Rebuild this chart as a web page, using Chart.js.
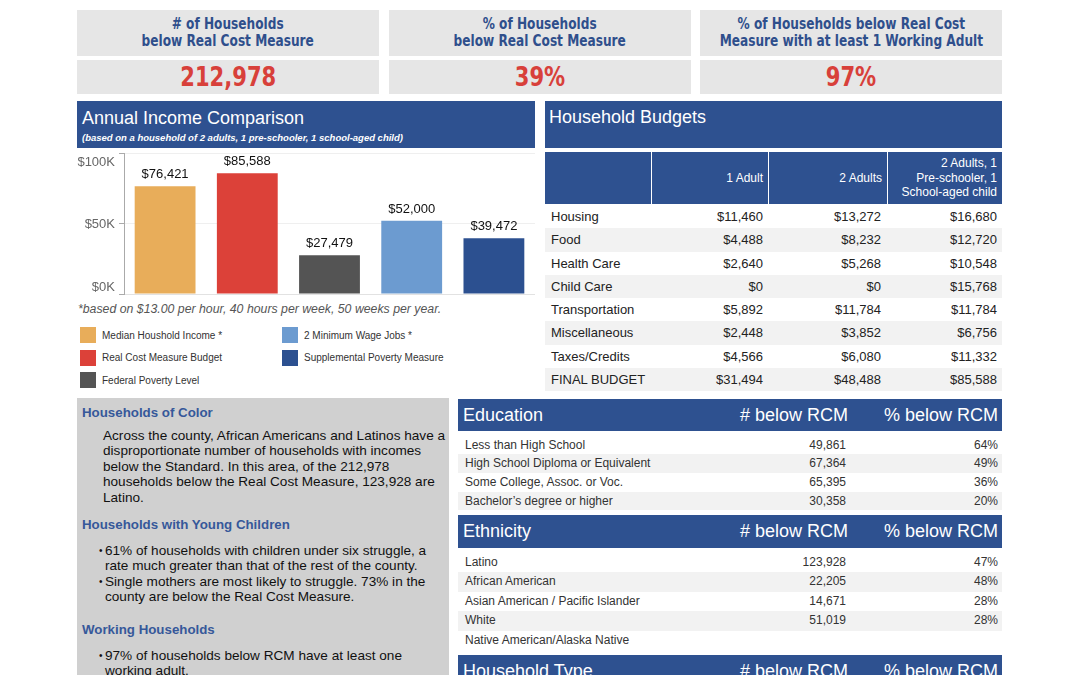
<!DOCTYPE html>
<html><head><meta charset="utf-8">
<script src="https://cdn.jsdelivr.net/npm/chart.js@4.4.1/dist/chart.umd.min.js"></script>
<style>
body{margin:0;width:1079px;height:675px;overflow:hidden;background:#fff;font-family:"Liberation Sans",Arial,sans-serif;position:relative;color:#222}
.a{position:absolute;box-sizing:border-box}
.kl{background:#e6e6e6;color:#2f4f8c;font-family:"Liberation Sans Narrow","Arial Narrow","DejaVu Sans Condensed",sans-serif;font-weight:bold;font-size:15px;line-height:17px;text-align:center;display:flex;align-items:center;justify-content:center}
.kl div{transform:scaleX(0.9);white-space:nowrap}
.kv{background:#e6e6e6;color:#d8403a;font-family:"Liberation Sans Narrow","Arial Narrow","DejaVu Sans Condensed",sans-serif;font-weight:bold;font-size:26px;text-align:center;display:flex;align-items:center;justify-content:center}
.kv div{transform:scaleX(0.9)}
.blue{background:#2e5190;color:#fff}
.leg{font-size:10px;color:#333;display:flex;align-items:center;height:16px}
.leg span{display:inline-block;width:16px;height:16px;margin-right:6px}
.gp{background:#d0d0d0}
.gh{color:#36589a;font-weight:bold;font-size:13.3px}
.gt{font-size:13.6px;line-height:15.4px;color:#111}
</style></head><body>
<div id="root"></div>
<div class="a" style="left:77px;top:140px;width:460px;height:157px"><canvas id="c"></canvas></div>
<script>
// ---- data ----
const kpiLabels = ["# of Households<br>below Real Cost Measure", "% of Households<br>below Real Cost Measure", "% of Households below Real Cost<br>Measure with at least 1 Working Adult"];
const kpiValues = ["212,978", "39%", "97%"];

const incomeCategories = ["Median Houshold Income *", "Real Cost Measure Budget", "Federal Poverty Level", "2 Minimum Wage Jobs *", "Supplemental Poverty Measure"];
const incomeValues = [76421, 85588, 27479, 52000, 39472];
const incomeColors = ["#e8ad5a", "#dc4139", "#545454", "#6c9bd0", "#2c5090"];
const yTicks = [0, 50000, 100000];

const budgetColumns = ["1 Adult", "2 Adults", "2 Adults, 1<br>Pre-schooler, 1<br>School-aged child"];
const budgetRows = ["Housing", "Food", "Health Care", "Child Care", "Transportation", "Miscellaneous", "Taxes/Credits", "FINAL BUDGET"];
const budget1Adult = ["$11,460", "$4,488", "$2,640", "$0", "$5,892", "$2,448", "$4,566", "$31,494"];
const budget2Adults = ["$13,272", "$8,232", "$5,268", "$0", "$11,784", "$3,852", "$6,080", "$48,488"];
const budgetFamily = ["$16,680", "$12,720", "$10,548", "$15,768", "$11,784", "$6,756", "$11,332", "$85,588"];

const eduRows = ["Less than High School", "High School Diploma or Equivalent", "Some College, Assoc. or Voc.", "Bachelor\u2019s degree or higher"];
const eduCount = ["49,861", "67,364", "65,395", "30,358"];
const eduPct = ["64%", "49%", "36%", "20%"];
const ethRows = ["Latino", "African American", "Asian American / Pacific Islander", "White", "Native American/Alaska Native"];
const ethCount = ["123,928", "22,205", "14,671", "51,019", ""];
const ethPct = ["47%", "48%", "28%", "28%", ""];

// ---- layout ----
const root = document.getElementById('root');
let h = '';
const kx = [77, 389, 700];
for (let i = 0; i < 3; i++) {
  h += `<div class="a kl" style="left:${kx[i]}px;top:10px;width:302px;height:46px"><div>${kpiLabels[i]}</div></div>`;
  h += `<div class="a kv" style="left:${kx[i]}px;top:60px;width:302px;height:34px"><div>${kpiValues[i]}</div></div>`;
}
// Annual income header
h += `<div class="a blue" style="left:77px;top:101px;width:458px;height:47px;padding:6px 0 0 5px">
<div style="font-size:18px;line-height:22px">Annual Income Comparison</div>
<div style="font-size:9.5px;font-style:italic;font-weight:bold;margin-top:3px">(based on a household of 2 adults, 1 pre-schooler, 1 school-aged child)</div></div>`;
h += `<div class="a" style="left:78px;top:302px;font-size:12.3px;font-style:italic;color:#555">*based on $13.00 per hour, 40 hours per week, 50 weeks per year.</div>`;
// legend
incomeCategories.forEach((c, i) => {
  const col = i < 3 ? 0 : 1, row = i < 3 ? i : i - 3;
  const x = col ? 282 : 80, y = 327 + row * 22.7;
  h += `<div class="a leg" style="left:${x}px;top:${y}px"><span style="background:${incomeColors[i]}"></span>${c}</div>`;
});
// Household budgets
h += `<div class="a blue" style="left:545px;top:101px;width:457px;height:47px;padding:6px 0 0 4px;font-size:18px">Household Budgets</div>`;
const bcx = [545, 652, 769, 888, 1002];
for (let i = 0; i < 4; i++) {
  const txt = i === 0 ? '' : budgetColumns[i - 1];
  h += `<div class="a blue" style="left:${bcx[i]}px;top:152px;width:${bcx[i+1]-bcx[i]-(i<3?1:0)}px;height:52px;font-size:12px;line-height:14.5px;text-align:right;padding-right:5px;display:flex;align-items:center;justify-content:flex-end"><div>${txt}</div></div>`;
}
const rightEdges = [763, 881, 997];
budgetRows.forEach((r, i) => {
  const y = 205 + i * 23.25;
  const bg = i % 2 ? '#f2f2f2' : '#fff';
  h += `<div class="a" style="left:545px;top:${y}px;width:457px;height:23.25px;background:${bg}"></div>`;
  h += `<div class="a" style="left:551px;top:${y}px;height:23px;line-height:23px;font-size:13px">${r}</div>`;
  [budget1Adult[i], budget2Adults[i], budgetFamily[i]].forEach((v, j) => {
    h += `<div class="a" style="right:${1079-rightEdges[j]}px;top:${y}px;height:23px;line-height:23px;font-size:13px">${v}</div>`;
  });
});
// gray panel
h += `<div class="a gp" style="left:77px;top:398px;width:372px;height:277px"></div>`;
h += `<div class="a gh" style="left:82px;top:405px">Households of Color</div>`;
h += `<div class="a gt" style="left:103px;top:428px;width:347px">Across the county, African Americans and Latinos have a disproportionate number of households with incomes below the Standard. In this area, of the 212,978 households below the Real Cost Measure, 123,928 are Latino.</div>`;
h += `<div class="a gh" style="left:82px;top:517px">Households with Young Children</div>`;
const bullet = (y, txt) => `<div class="a gt" style="left:105px;top:${y}px;width:344px"><span class="a" style="left:-6px;top:0;font-size:10px">\u2022</span>${txt}</div>`;
h += bullet(543, '61% of households with children under six struggle, a rate much greater than that of the rest of the county.');
h += bullet(574, 'Single mothers are most likely to struggle. 73% in the county are below the Real Cost Measure.');
h += `<div class="a gh" style="left:82px;top:622px">Working Households</div>`;
h += bullet(648, '97% of households below RCM have at least one working adult.');

// right tables
function section(title, top, hh, rows, counts, pcts, rowTop, rowH) {
  let s = `<div class="a blue" style="left:458px;top:${top}px;width:544px;height:${hh}px"></div>`;
  s += `<div class="a" style="left:463px;top:${top}px;height:${hh}px;line-height:${hh}px;font-size:18px;color:#fff">${title}</div>`;
  s += `<div class="a" style="right:${1079-848}px;top:${top}px;height:${hh}px;line-height:${hh}px;font-size:18px;color:#fff">#&nbsp;below RCM</div>`;
  s += `<div class="a" style="right:${1079-998}px;top:${top}px;height:${hh}px;line-height:${hh}px;font-size:18px;color:#fff">%&nbsp;below RCM</div>`;
  rows.forEach((r, i) => {
    const y = rowTop + i * rowH;
    if (i % 2) s += `<div class="a" style="left:458px;top:${y}px;width:544px;height:${rowH}px;background:#f2f2f2"></div>`;
    s += `<div class="a" style="left:465px;top:${y}px;height:${rowH}px;line-height:${rowH}px;font-size:12px;color:#333">${r}</div>`;
    s += `<div class="a" style="right:${1079-846}px;top:${y}px;height:${rowH}px;line-height:${rowH}px;font-size:12px;color:#333">${counts[i]}</div>`;
    s += `<div class="a" style="right:${1079-998}px;top:${y}px;height:${rowH}px;line-height:${rowH}px;font-size:12px;color:#333">${pcts[i]}</div>`;
  });
  return s;
}
h += section('Education', 399, 32, eduRows, eduCount, eduPct, 435.5, 18.7);
h += section('Ethnicity', 515, 33, ethRows, ethCount, ethPct, 552.5, 19.5);
h += section('Household Type', 655, 33, [], [], [], 690, 19);
root.innerHTML = h;

// ---- chart ----
const fmt = v => '$' + v.toLocaleString('en-US');
const valueLabels = {
  id: 'valueLabels',
  afterDatasetsDraw(chart) {
    const ctx = chart.ctx;
    ctx.save();
    ctx.font = '13px "Liberation Sans", Arial, sans-serif';
    ctx.fillStyle = '#111';
    ctx.textAlign = 'center';
    ctx.textBaseline = 'bottom';
    chart.getDatasetMeta(0).data.forEach((bar, i) => {
      ctx.fillText(fmt(incomeValues[i]), bar.x, bar.y - 5);
    });
    ctx.restore();
  }
};
const yLabels = {
  id: 'yLabels',
  afterDraw(chart) {
    const s = chart.scales.y, ctx = chart.ctx;
    ctx.save();
    ctx.font = '13px "Liberation Sans", Arial, sans-serif';
    ctx.fillStyle = '#666';
    ctx.textAlign = 'right';
    ctx.textBaseline = 'middle';
    yTicks.forEach(v => {
      const y = s.getPixelForValue(v) + 9 - 16 * (1 - v / s.max);
      ctx.fillText('$' + (v / 1000) + 'K', s.right - 9, y);
    });
    ctx.restore();
  }
};
new Chart(document.getElementById('c'), {
  type: 'bar',
  data: {
    labels: incomeCategories,
    datasets: [{ data: incomeValues, backgroundColor: incomeColors, barPercentage: 0.74, categoryPercentage: 1 }]
  },
  options: {
    responsive: true, maintainAspectRatio: false, animation: false,
    layout: { padding: { top: 13, right: 2, bottom: 3, left: 0 } },
    plugins: { legend: { display: false }, tooltip: { enabled: false } },
    scales: {
      x: { display: false },
      y: {
        min: 0, max: 100000,
        afterBuildTicks: s => { s.ticks = yTicks.map(v => ({ value: v })); },
        afterFit: s => { s.width = 47; },
        ticks: { display: false },
        grid: { color: c => c.tick && c.tick.value === 0 ? '#e2e2e2' : '#efefef', tickLength: 5, tickColor: '#aaa', drawTicks: true },
        border: { display: true, color: '#aaa' }
      }
    }
  },
  plugins: [valueLabels, yLabels]
});
</script>
</body></html>
